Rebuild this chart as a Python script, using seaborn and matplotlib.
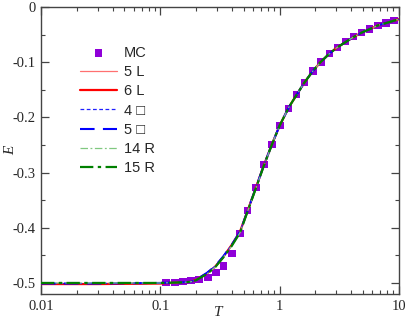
import matplotlib
matplotlib.use("Agg")
import matplotlib.pyplot as plt
import matplotlib.ticker as mticker
import seaborn as sns

# Monte Carlo points
T_mc = [0.112, 0.133, 0.155, 0.181, 0.211, 0.251, 0.293, 0.337, 0.399, 0.466,
        0.541, 0.634, 0.740, 0.863, 1.007, 1.183, 1.391, 1.623, 1.905, 2.223,
        2.61, 3.046, 3.58, 4.18, 4.88, 5.69, 6.68, 7.80, 9.10]
E_mc = [-0.4987, -0.4987, -0.4976, -0.4958, -0.4933, -0.4897, -0.4813, -0.4692,
        -0.4466, -0.410, -0.3683, -0.3266, -0.2857, -0.2487, -0.2143, -0.1835,
        -0.1589, -0.1364, -0.1159, -0.0996, -0.0846, -0.0737, -0.0629, -0.0538,
        -0.0458, -0.0399, -0.0332, -0.0290, -0.0248]

# expansion curves
T_line = [0.01, 0.03, 0.1, 0.15, 0.18, 0.2, 0.245, 0.287, 0.337, 0.397, 0.466,
          0.54, 0.634, 0.74, 0.863, 1.0, 1.2, 1.4, 1.6, 1.9, 2.2, 2.6, 3.0, 3.6,
          4.2, 4.9, 5.7, 6.7, 7.8, 10.0]
E_5L = [-0.502, -0.502, -0.501, -0.499, -0.498, -0.494, -0.483, -0.471, -0.453,
        -0.431, -0.407, -0.369, -0.327, -0.286, -0.249, -0.215, -0.181, -0.158,
        -0.138, -0.116, -0.100, -0.085, -0.074, -0.063, -0.054, -0.046, -0.040,
        -0.033, -0.029, -0.022]
E_6L = [-0.502, -0.502, -0.501, -0.499, -0.498, -0.494, -0.483, -0.471, -0.453,
        -0.431, -0.407, -0.369, -0.327, -0.286, -0.249, -0.215, -0.181, -0.158,
        -0.138, -0.116, -0.100, -0.085, -0.074, -0.063, -0.054, -0.046, -0.040,
        -0.033, -0.029, -0.022]
E_4S = [-0.501, -0.501, -0.500, -0.499, -0.498, -0.494, -0.482, -0.470, -0.452,
        -0.431, -0.407, -0.369, -0.327, -0.286, -0.249, -0.215, -0.181, -0.158,
        -0.138, -0.116, -0.100, -0.085, -0.074, -0.063, -0.054, -0.046, -0.040,
        -0.033, -0.029, -0.022]
E_5S = [-0.501, -0.501, -0.500, -0.499, -0.498, -0.494, -0.482, -0.470, -0.452,
        -0.431, -0.407, -0.369, -0.327, -0.286, -0.249, -0.215, -0.181, -0.158,
        -0.138, -0.116, -0.100, -0.085, -0.074, -0.063, -0.054, -0.046, -0.040,
        -0.033, -0.029, -0.022]
E_14R = [-0.500, -0.500, -0.500, -0.499, -0.498, -0.495, -0.484, -0.472, -0.454,
         -0.433, -0.409, -0.370, -0.328, -0.287, -0.249, -0.215, -0.181, -0.158,
         -0.138, -0.116, -0.100, -0.085, -0.074, -0.063, -0.054, -0.046, -0.040,
         -0.033, -0.029, -0.022]
E_15R = [-0.500, -0.500, -0.500, -0.499, -0.498, -0.495, -0.484, -0.472, -0.454,
         -0.433, -0.409, -0.370, -0.328, -0.287, -0.249, -0.215, -0.181, -0.158,
         -0.138, -0.116, -0.100, -0.085, -0.074, -0.063, -0.054, -0.046, -0.040,
         -0.033, -0.029, -0.022]

labels = ["5 L", "6 L", "4 \u25a1", "5 \u25a1", "14 R", "15 R"]

sns.set_style("ticks")
plt.rcParams["font.family"] = ["Liberation Serif", "DejaVu Serif"]

fig = plt.figure(figsize=(4.07, 3.22), dpi=100)
ax = fig.add_axes([0.1007, 0.087, 0.8793, 0.891])

sns.scatterplot(x=T_mc, y=E_mc, marker="s", s=28, color="#8f00d8",
                edgecolor="none", label="MC", ax=ax, zorder=2)

curve_styles = [
    (E_5L, "#ff7070", 0.9, (None, None)),
    (E_6L, "#ff0000", 1.6, (None, None)),
    (E_4S, "#2020ff", 0.9, (3, 2)),
    (E_5S, "#0000ff", 1.5, (7, 4)),
    (E_14R, "#80c880", 0.9, (6, 2, 1.5, 2)),
    (E_15R, "#008000", 1.6, (6, 2, 1.5, 2)),
]
for (vals, col, lw, dash), lab in zip(curve_styles, labels):
    sns.lineplot(x=T_line, y=vals, color=col, linewidth=lw, label=lab,
                 ax=ax, zorder=3)
    if dash[0] is not None:
        ax.lines[-1].set_dashes(dash)

ax.set_xscale("log")
ax.set_xlim(0.01, 10)
ax.set_ylim(-0.52, 0)
ax.xaxis.set_major_locator(mticker.FixedLocator([0.01, 0.1, 1, 10]))
ax.xaxis.set_major_formatter(mticker.FixedFormatter(["0.01", "0.1", "1", "10"]))
ax.xaxis.set_minor_locator(mticker.LogLocator(base=10, subs=range(2, 10)))
ax.xaxis.set_minor_formatter(mticker.NullFormatter())
yt = [0, -0.1, -0.2, -0.3, -0.4, -0.5]
ax.yaxis.set_major_locator(mticker.FixedLocator(yt))
ax.yaxis.set_major_formatter(mticker.FixedFormatter(["0", "-0.1", "-0.2", "-0.3", "-0.4", "-0.5"]))
ax.yaxis.set_minor_locator(mticker.FixedLocator([-0.05, -0.15, -0.25, -0.35, -0.45]))

ax.tick_params(which="both", direction="in", top=True, right=True, color="#444444")
ax.tick_params(which="major", length=5.5, width=0.9, labelsize=10.5, pad=4)
ax.tick_params(which="minor", length=3, width=0.8)
for sp in ax.spines.values():
    sp.set_color("#444444")
    sp.set_linewidth(1.0)

ax.set_xlabel("T", fontstyle="italic", fontsize=11, va="center")
ax.set_ylabel("E", fontstyle="italic", fontsize=11, va="center")
ax.xaxis.set_label_coords(0.495, -0.063)
ax.yaxis.set_label_coords(-0.085, 0.5)

ax.legend(loc="upper left", bbox_to_anchor=(0.11, 0.865), frameon=False,
          prop={"family": ["Liberation Sans", "DejaVu Sans"], "size": 10.5},
          handlelength=2.5, handletextpad=0.5, labelspacing=0.36,
          borderaxespad=0, borderpad=0)

fig.savefig("out.png", dpi=100)
